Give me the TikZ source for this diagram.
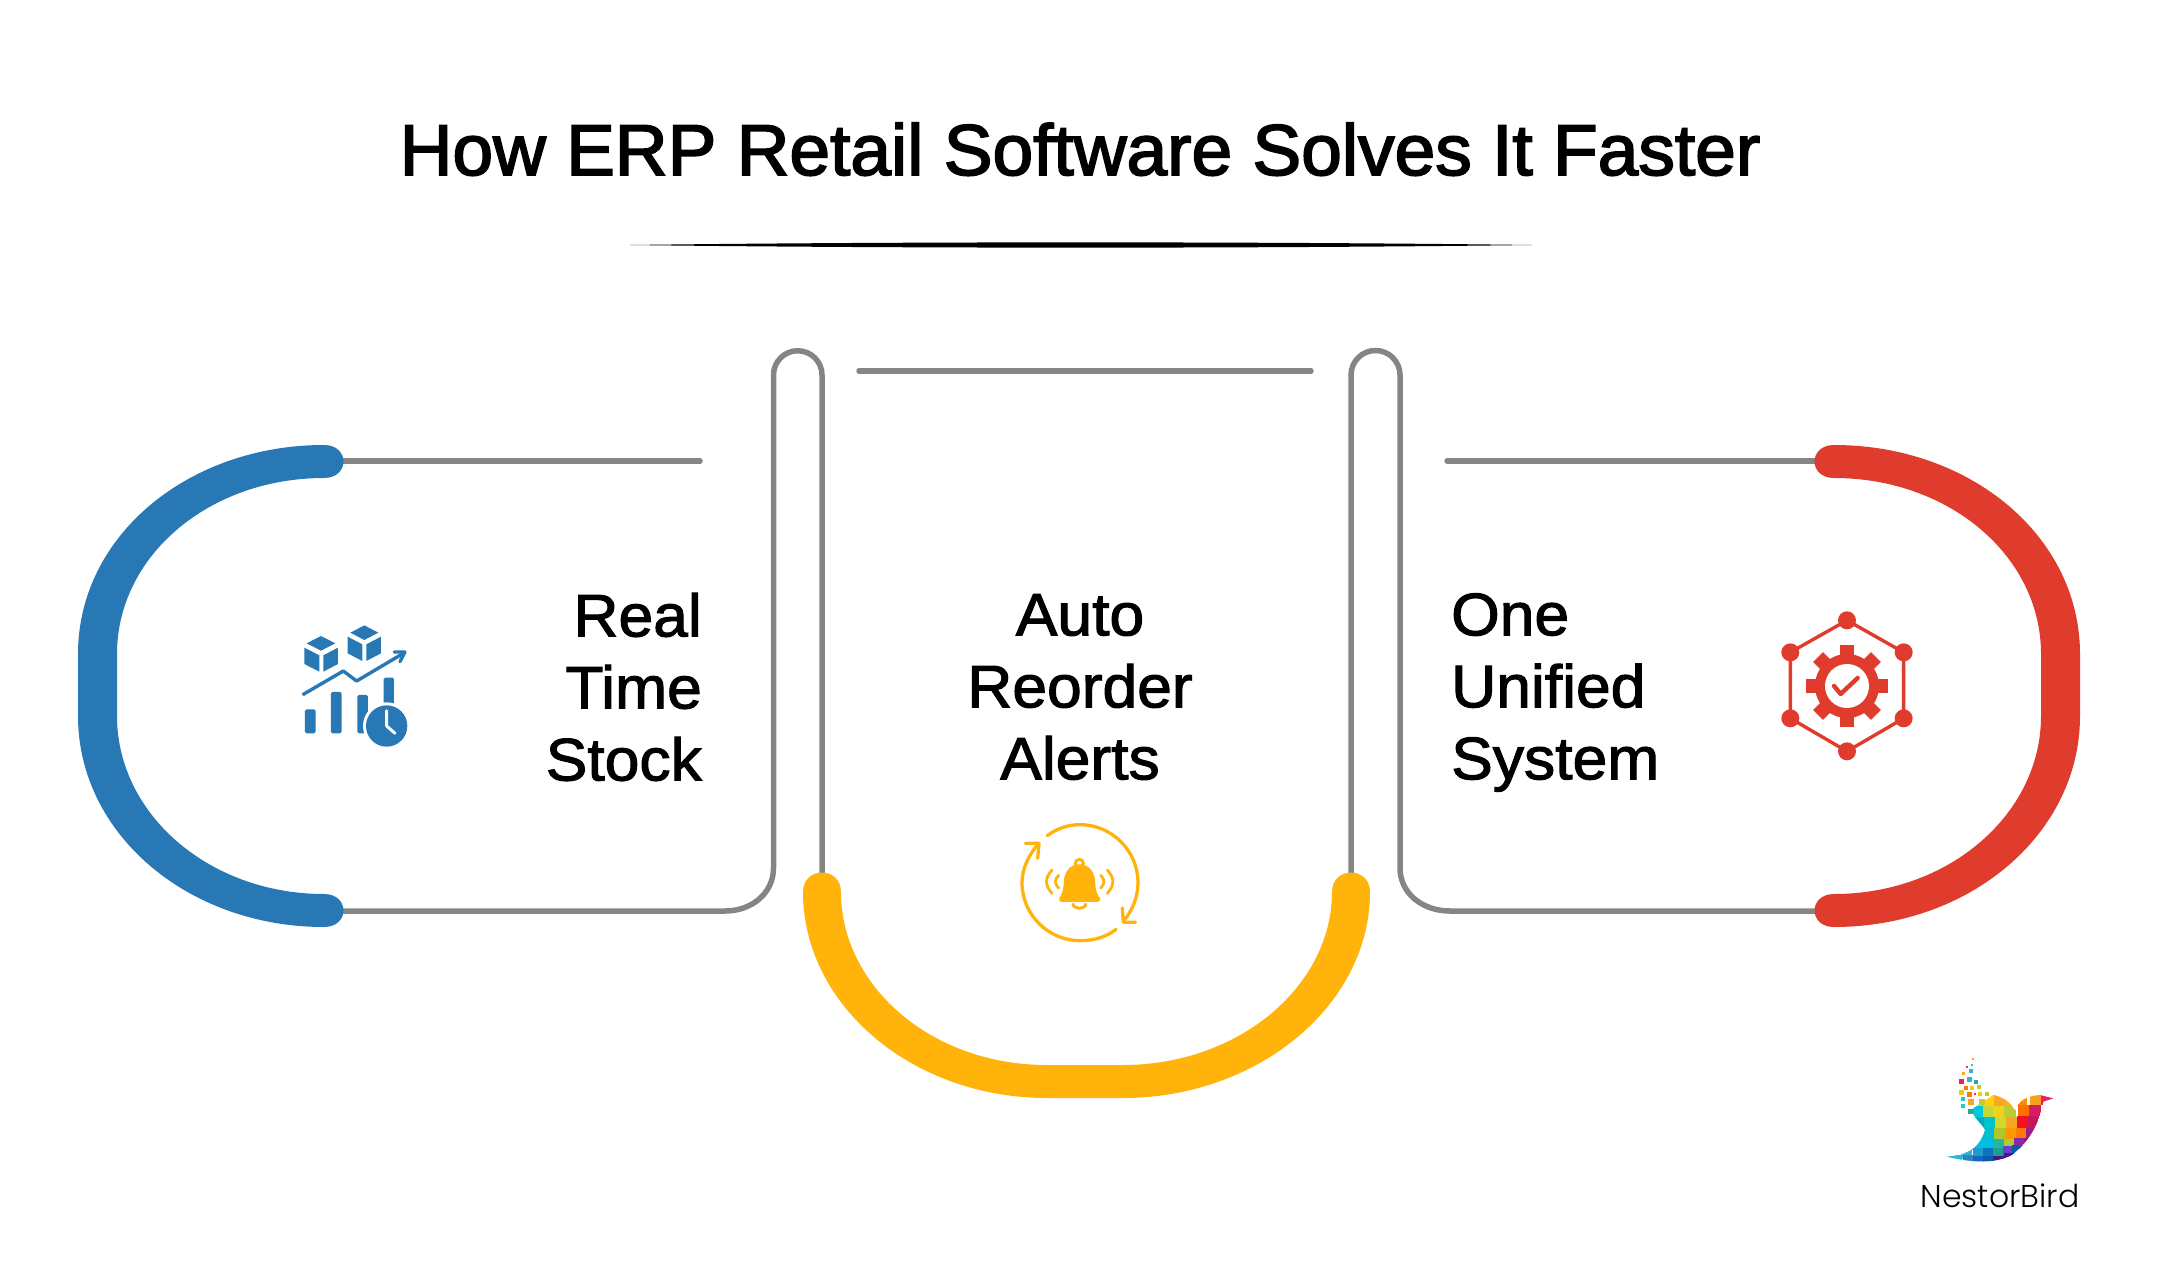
\documentclass[tikz,border=0pt]{standalone}
\usepackage{fontspec}
\setmainfont{Liberation Sans}
\newfontfamily\titlefont[FakeBold=2.4,FakeStretch=1.015]{Liberation Sans}
\newfontfamily\labelfont[FakeBold=1.8,FakeStretch=1.04]{Liberation Sans}
\newfontfamily\logofont{Poppins Light}
\definecolor{cblue}{HTML}{2878B5}
\definecolor{cred}{HTML}{E03C2D}
\definecolor{cyell}{HTML}{FFB30B}
\definecolor{cgray}{HTML}{858585}
\tikzset{
  wire/.style={draw=cgray,line width=5.5pt,line cap=round,line join=round},
  label/.style={font=\labelfont\fontsize{60}{72}\selectfont,inner sep=0pt,text=black},
  iconline/.style={line cap=round,line join=round},
}
\begin{document}
\begin{tikzpicture}[x=1pt,y=-1pt]
\useasboundingbox (0,0) rectangle (2160,1268);
% title and divider
\node[font=\titlefont\fontsize{72}{80}\selectfont,inner sep=0pt,anchor=base] (title) at (1080,175) {How ERP Retail Software Solves It Faster};
\fill[black] (630,245) .. controls (900,241.5) and (1260,241.5) .. (1532,245) .. controls (1260,248.5) and (900,248.5) .. (630,245) -- cycle;
% endpoints
\coordinate (bT) at (324,461); \coordinate (bB) at (324,911);
\coordinate (rT) at (1833,461); \coordinate (rB) at (1833,911);
\coordinate (yL) at (822,892); \coordinate (yR) at (1351,892);
\coordinate (tE) at (700,461); \coordinate (oS) at (1447,461);
\coordinate (mL) at (859,371); \coordinate (mR) at (1311,371);
% gray wires
\draw[wire] (bT) -- (tE);
\draw[wire] (oS) -- (rT);
\draw[wire] (mL) -- (mR);
\draw[wire] (bB) -- (725,911) .. controls (752,911) and (773.5,893) .. (773.5,868) -- (773.5,375) arc[start angle=180,end angle=360,radius=24.25] -- (yL);
\draw[wire] (rB) -- (1450,911) .. controls (1422,911) and (1400,893) .. (1400,868) -- (1400,375) arc[start angle=0,end angle=-180,radius=24.5] -- (yR);
% bands
\fill[cblue] (324,445) .. controls (188,445) and (78,536) .. (78,654) -- (78,716) .. controls (78,834) and (188,927) .. (324,927) .. controls (350,927) and (350,894) .. (324,894) .. controls (209,894) and (117,814) .. (117,716) -- (117,654) .. controls (117,556) and (209,478) .. (324,478) .. controls (350,478) and (350,445) .. (324,445) -- cycle;
\fill[cred] (1834,445) .. controls (1970,445) and (2080,536) .. (2080,654) -- (2080,716) .. controls (2080,834) and (1970,927) .. (1834,927) .. controls (1808,927) and (1808,894) .. (1834,894) .. controls (1949,894) and (2041,814) .. (2041,716) -- (2041,654) .. controls (2041,556) and (1949,478) .. (1834,478) .. controls (1808,478) and (1808,445) .. (1834,445) -- cycle;
\fill[cyell] (803,892) .. controls (803,1005) and (912,1098) .. (1047,1098) -- (1123,1098) .. controls (1258,1098) and (1370,1005) .. (1370,892) .. controls (1370,866) and (1332,866) .. (1332,892) .. controls (1332,985) and (1240,1065) .. (1123,1065) -- (1047,1065) .. controls (930,1065) and (841,985) .. (841,892) .. controls (841,866) and (803,866) .. (803,892) -- cycle;
% labels
\node[label,align=right,anchor=east] (real) at (702,687) {Real\\Time\\Stock};
\node[label,align=center,anchor=center] (auto) at (1080,687) {Auto\\Reorder\\Alerts};
\node[label,align=left,anchor=west] (one) at (1451,692.5) {One\\Unified\\System};
% blue icon
\begin{scope}[shift={(260,600)},x=0.3333pt,y=-0.3333pt]
\fill[cblue] (140,130)--(183,108)--(226,130)--(183,152)--cycle;
\fill[cblue] (133,143)--(178,166)--(178,215)--(133,192)--cycle;
\fill[cblue] (190,166)--(234,143)--(234,192)--(190,215)--cycle;
\fill[cblue] (271,98)--(313,76)--(355,98)--(313,120)--cycle;
\fill[cblue] (263,110)--(307,133)--(307,183)--(263,160)--cycle;
\fill[cblue] (319,133)--(363,110)--(363,160)--(319,183)--cycle;
\draw[cblue,iconline,line width=3.4pt] (130,283)--(250,213)--(290,243)--(425,163);
\draw[cblue,iconline,line width=3.4pt] (403,156)--(435,156)--(420,185);
\fill[cblue,rounded corners=1.5pt] (135,328) rectangle (167,400);
\fill[cblue,rounded corners=1.5pt] (213,276) rectangle (245,400);
\fill[cblue,rounded corners=1.5pt] (292,285) rectangle (324,400);
\fill[cblue,rounded corners=1.5pt] (371,233) rectangle (402,320);
\fill[white] (380,378) circle[radius=71];
\fill[cblue] (380,378) circle[radius=62];
\draw[white,iconline,line width=3pt] (380,332)--(380,378)--(405,400);
\end{scope}
% bell icon
\begin{scope}[shift={(990,800)},x=0.3333pt,y=-0.3333pt]
\draw[cyell,iconline,line width=3.3pt] (172,107) .. controls (205,82) and (240,74) .. (270,74) .. controls (365,74) and (444,152) .. (444,248) .. controls (444,290) and (428,330) .. (402,362);
\draw[cyell,iconline,line width=3.3pt] (397,324)--(400,367)--(437,367);
\draw[cyell,iconline,line width=3.3pt] (378,388) .. controls (348,412) and (310,422) .. (270,422) .. controls (175,422) and (96,344) .. (96,248) .. controls (96,205) and (118,162) .. (145,132);
\draw[cyell,iconline,line width=3.3pt] (106,130)--(147,130)--(143,175);
\draw[cyell,line width=3pt] (268,190) circle[radius=12];
\draw[cyell,line width=2.8pt] (248,310) .. controls (250,330) and (286,330) .. (288,310);
\fill[cyell] (268,193) .. controls (235,193) and (222,220) .. (221,250) .. controls (220,275) and (214,285) .. (208,294) .. controls (205,300) and (208,306) .. (216,306) -- (322,306) .. controls (330,306) and (334,300) .. (330,294) .. controls (322,285) and (317,275) .. (316,250) .. controls (315,220) and (301,193) .. (268,193) -- cycle;
\draw[cyell,iconline,line width=2.8pt] (186,210) .. controls (164,235) and (164,255) .. (186,280);
\draw[cyell,iconline,line width=2.8pt] (206,226) .. controls (193,238) and (193,252) .. (206,264);
\draw[cyell,iconline,line width=2.8pt] (352,210) .. controls (374,235) and (374,255) .. (352,280);
\draw[cyell,iconline,line width=2.8pt] (332,226) .. controls (345,238) and (345,252) .. (332,264);
\end{scope}
% gear icon
\begin{scope}[shift={(1750,590)},x=0.3333pt,y=-0.3333pt]
\draw[cred,line width=3.4pt,line join=round] (291,91)--(461,187)--(461,385)--(291,484)--(121,385)--(121,187)--cycle;
\foreach \p in {(291,91),(461,187),(461,385),(291,484),(121,385),(121,187)} \fill[cred] \p circle[radius=27];
\foreach \a in {0,45,...,315} \fill[cred,rotate around={\a:(291,288)}] (270,165) rectangle (312,215);
\fill[cred] (291,288) circle[radius=96];
\fill[white] (291,288) circle[radius=66];
\draw[cred,iconline,line width=4.4pt] (252,288)--(272,312)--(323,264);
\end{scope}
% logo
\begin{scope}[shift={(1900,1040)},x=0.3333pt,y=-0.3333pt]
\begin{scope}
\clip (140,350) .. controls (190,345) and (235,335) .. (255,270) .. controls (245,250) and (220,235) .. (215,208) -- (280,165) .. controls (310,170) and (335,190) .. (345,212) .. controls (355,185) and (375,168) .. (420,165) -- (460,175) -- (430,185) .. controls (420,240) and (395,300) .. (335,345) .. controls (290,370) and (220,370) .. (140,350) -- cycle;
\foreach \x/\y/\c in {
236/182/F5C518,268/182/FCD20A,300/182/F9A825,332/182/F7B51A,365/182/FB8C00,408/178/F9A11B,441/178/E91E63,
235/215/00C8D7,265/215/C7D63B,297/215/F2D31B,330/215/C0CA33,372/212/FF6F00,405/212/D81B60,
235/248/00ACC1,270/248/00C4CC,302/248/D4D62A,335/248/F5A623,368/246/F50F1F,400/246/C2185B,
232/281/00BCD4,265/281/00BCD4,300/281/AFC72D,333/281/FF9800,365/280/FF7A00,395/280/9C1A8C,
232/314/00BFE0,265/314/00BFE0,297/314/26B5A0,328/314/B2C935,358/310/8E24AA,388/310/8E1A80,
200/340/29B6D8,235/340/1E9BD0,265/340/0B74BB,297/340/1F9E8F,325/335/6A3FD0,352/332/0E5A9A,
136/362/29B6D8,170/362/29B6D8,205/362/2E86B8,235/365/1565C0,265/365/0A5CA8,297/365/4A148C,330/355/4A148C}
{\definecolor{pc}{HTML}{\c}\fill[pc] (\x-17,\y-17) rectangle (\x+17,\y+17);}
\end{scope}
\foreach \x/\y/\s/\c in {219/57/3/F5A623,216/75/4/26C6DA,200/82/3/E53935,212/94/6/29B6D8,191/101/5/F5A623,185/125/7/E91E63,209/118/7/29B6D8,227/125/6/26A69A,197/145/6/F57C00,216/143/6/F9C80E,236/142/6/C0CA33,185/158/7/F9C80E,208/164/7/F57C00,225/162/3/E53935,240/162/6/F9C80E,261/162/6/C0CA33,190/178/6/26C6DA,212/185/9/F5A623,190/198/6/26C6DA,245/187/9/C0CA33,212/214/7/26A69A}
{\definecolor{pc}{HTML}{\c}\fill[pc] (\x-\s,\y-\s) rectangle (\x+\s,\y+\s);}
\end{scope}
\node[font=\logofont\fontsize{31.5}{34}\selectfont,inner sep=0pt,anchor=base] (logo) at (2000,1207) {NestorBird};
\end{tikzpicture}
\end{document}
